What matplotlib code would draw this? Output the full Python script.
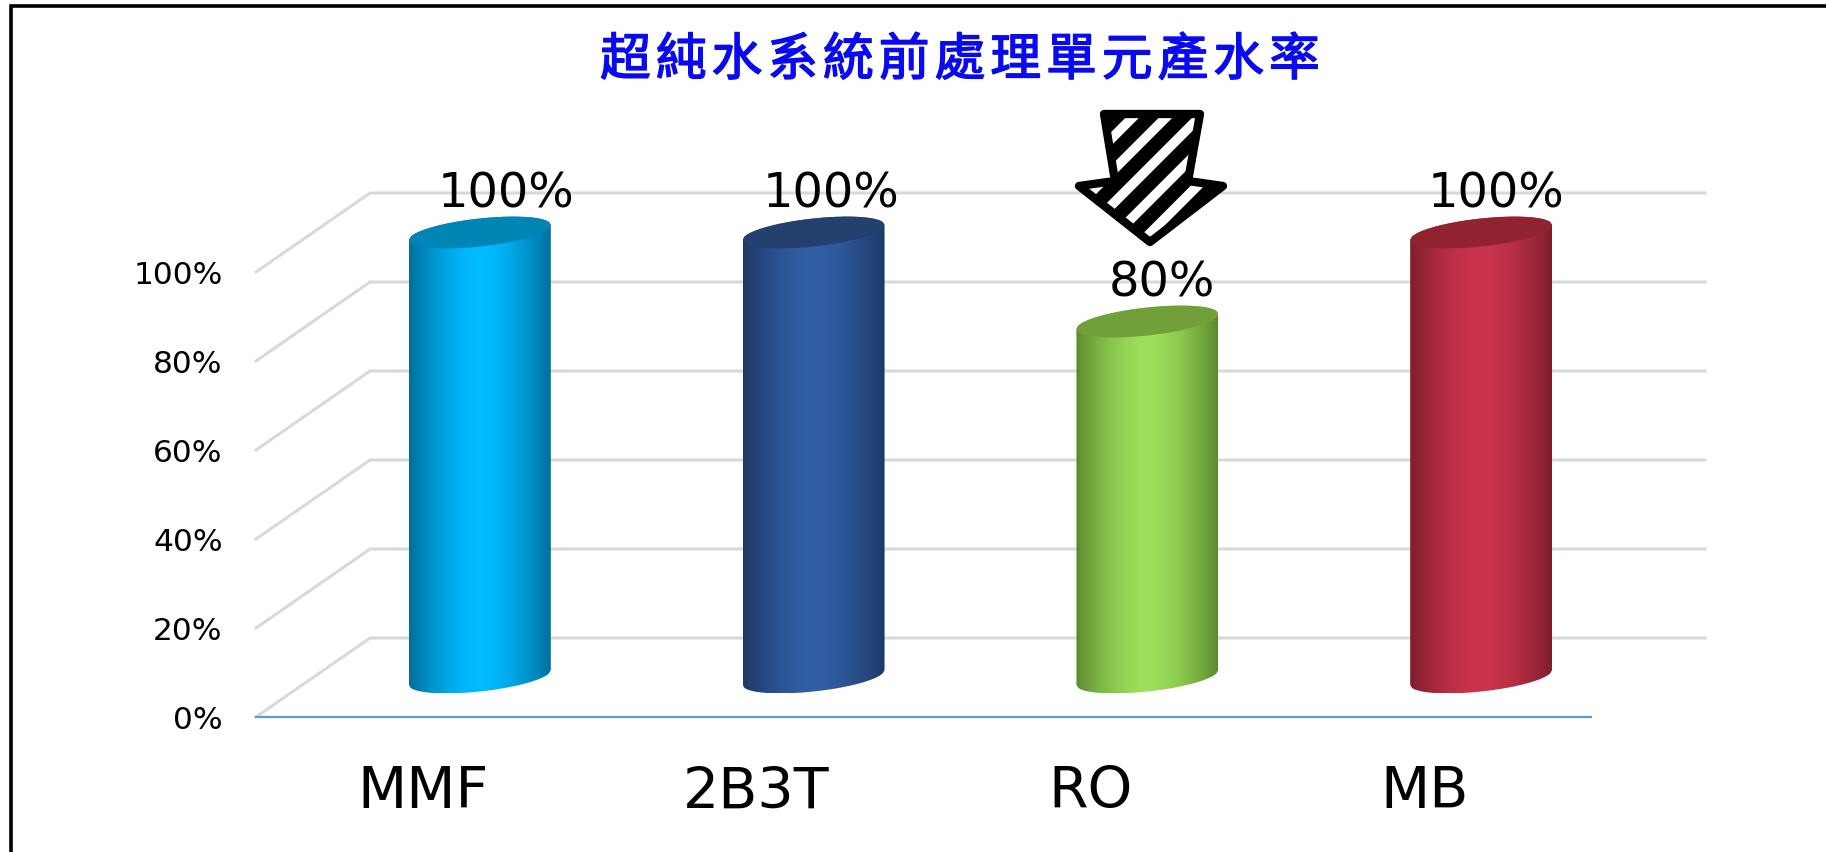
import numpy as np
import matplotlib
matplotlib.use("Agg")
from matplotlib import pyplot as plt
from matplotlib import patheffects
from matplotlib.patches import PathPatch, Polygon
from matplotlib.path import Path
from matplotlib.lines import Line2D
from matplotlib.colors import to_rgb
from matplotlib.transforms import Affine2D

title = "超純水系統前處理單元產水率"
categories = ["MMF", "2B3T", "RO", "MB"]
values = [100, 100, 80, 100]
yticks = [0, 20, 40, 60, 80, 100]

W, H = 1826, 853

centerColors = ["#00BBFF", "#305FA3", "#9CE05A", "#CB344C"]
edgeColors = ["#006E9C", "#1D3866", "#5C8A2E", "#7E1E2C"]
topColors = ["#0085B5", "#23406F", "#71A03B", "#90232F"]
labelShift = [26, 17, 15, 15]  # px, the labels do not sit quite over the bars

plt.rcParams["font.family"] = ["DejaVu Sans"]
plt.rcParams["hatch.linewidth"] = 10

fig = plt.figure(figsize=(W / 100, H / 100), dpi=100, facecolor="white")

# front edge of the floor goes from x=256 to x=1591, 0% at y=718 and 100% at y=273
ax = fig.add_axes([256 / W, 1 - 718 / H, (1591 - 256) / W, (718 - 273) / H])
ax.set_xlim(-0.5, 3.5)
ax.set_ylim(0, 100)
ax.patch.set_alpha(0)
for s in ax.spines.values():
    s.set_visible(False)

# oblique depth of the fake 3d box, in data units per unit of depth
depthX = 114 / (1335 / 4)
depthY = 79 / 4.45


def proj(x, v, d):
    return x + d * depthX, v + d * depthY


# walls
for v in yticks:
    x0, y0 = proj(-0.5, v, 0)
    x1, y1 = proj(-0.5, v, 1)
    x2, y2 = proj(3.5, v, 1)
    ax.plot([x0, x1, x2], [y0, y1, y2], color="#D9D9D9", lw=2.2, clip_on=False,
            solid_joinstyle="miter", zorder=1)
ax.plot([-0.5, 3.5], [0, 0], color="#5B9BD5", lw=1.6, clip_on=False, zorder=2)

# cylinders
halfW = 0.2125
tilt = 1.68
squash = 3.15
u = np.linspace(-1, 1, 81)

for i, v in enumerate(values):
    cx, base = proj(i, 0, 0.5)
    _, top = proj(i, v, 0.5)
    xs = cx + u * halfW
    front = -np.sqrt(1 - u**2) * squash
    back = np.sqrt(1 - u**2) * squash
    slope = u * tilt

    outlineX = np.concatenate([xs, xs[::-1]])
    outlineY = np.concatenate([base + slope + front, (top + slope + back)[::-1]])
    body = PathPatch(Path(np.column_stack([outlineX, outlineY])), transform=ax.transData,
                     facecolor="none", edgecolor="none")
    ax.add_patch(body)

    t = np.abs(np.linspace(-1, 1, 256)) ** 1.7
    c0 = np.array(to_rgb(centerColors[i]))
    c1 = np.array(to_rgb(edgeColors[i]))
    grad = (c0[None, :] * (1 - t[:, None]) + c1[None, :] * t[:, None])[None, :, :]
    im = ax.imshow(grad, extent=[cx - halfW, cx + halfW, outlineY.min(), outlineY.max()],
                   aspect="auto", interpolation="bilinear", zorder=3)
    im.set_clip_box(fig.bbox)  # the top of the bar is above the axes box
    im.set_clip_path(body)

    lid = np.column_stack([outlineX, np.concatenate([top + slope + front, (top + slope + back)[::-1]])])
    ax.add_patch(Polygon(lid, closed=True, facecolor=topColors[i], edgecolor="none",
                         clip_on=False, zorder=4))

    ax.annotate(f"{v}%", xy=(cx, top), xytext=(labelShift[i] * 0.72, 39 * 0.72),
                textcoords="offset points", ha="center", va="center", fontsize=34.5,
                color="black", annotation_clip=False, zorder=6)

ax.set_xlim(-0.5, 3.5)
ax.set_ylim(0, 100)

ax.set_yticks(yticks)
ax.set_yticklabels([f"{v}%" for v in yticks], fontsize=22.5, color="black")
ax.set_xticks(range(len(categories)))
ax.set_xticklabels(categories, fontsize=41, color="black")
ax.tick_params(axis="both", length=0)
ax.tick_params(axis="y", pad=24)
ax.tick_params(axis="x", pad=34)

# pixel coordinates from top left, for the things that do not belong to the axes
pixels = Affine2D().scale(1 / W, -1 / H).translate(0, 1) + fig.transFigure

titleText = fig.text(960, 62, "\u200a".join(title), transform=pixels, fontsize=36.5,
                     color="#0A0AF0", fontweight="medium", ha="center", va="center",
                     family=["Noto Sans CJK TC", "DejaVu Sans"])
titleText.set_path_effects([patheffects.withStroke(linewidth=1.1, foreground="#0A0AF0")])

arrow = [(1104, 115), (1200, 115), (1188, 182), (1223, 187), (1150, 243), (1079, 187), (1115, 182)]
fig.add_artist(Polygon(arrow, closed=True, transform=pixels, facecolor="white", edgecolor="black",
                       hatch="/", lw=6, joinstyle="round", zorder=7))

# frame of the slide, only top and left show
fig.add_artist(Line2D([10.5, 10.5, W], [H, 6.5, 6.5], transform=pixels, color="black", lw=2.6,
                      solid_joinstyle="miter"))

fig.savefig("out.png", dpi=100)
